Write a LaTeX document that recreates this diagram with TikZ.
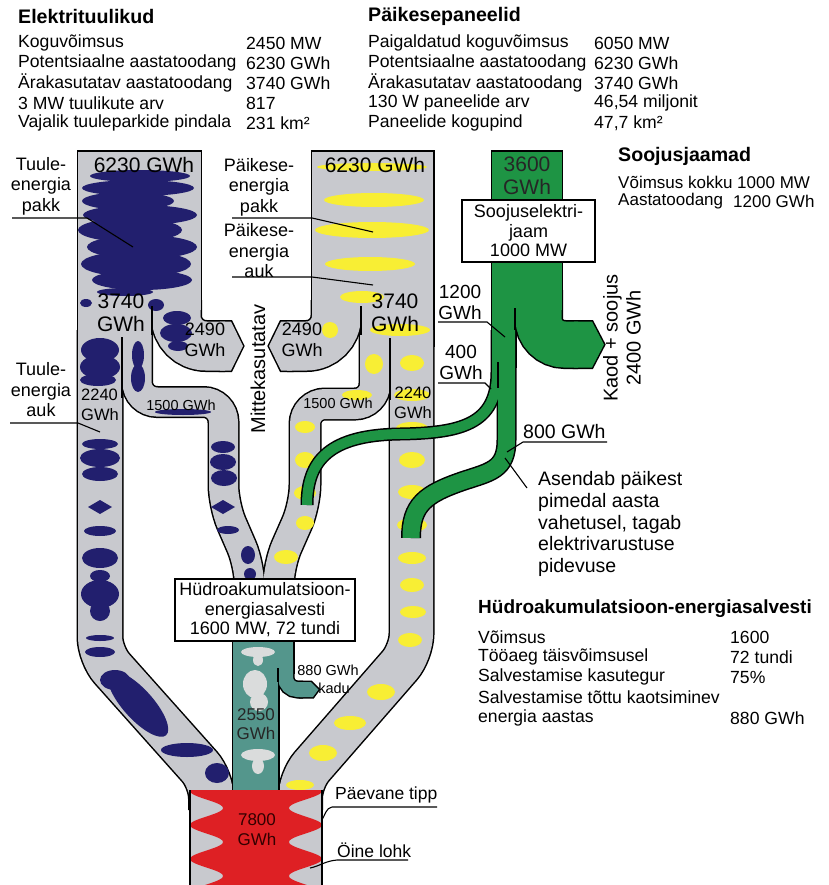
\documentclass[tikz,border=0pt]{standalone}
\usepackage{fontspec}
\setmainfont{Liberation Sans}
\usetikzlibrary{positioning}

\definecolor{bandgray}{RGB}{200,201,206}
\definecolor{windblue}{RGB}{34,31,110}
\definecolor{sunyellow}{RGB}{248,238,52}
\definecolor{heatgreen}{RGB}{30,148,68}
\definecolor{hydroteal}{RGB}{84,150,140}
\definecolor{peakred}{RGB}{222,32,36}
\definecolor{paleblob}{RGB}{218,220,220}

% #1 extra width, #2 band colour, #3 polygon style
\newcommand{\grayflow}[3]{%
  \path[#3] (78,152) rectangle (200.5,310);
  \path[#3] (78,300) rectangle (151,345);
  \draw[#2, line width=49pt+#1, rounded corners=30pt] (176,300) -- (176,346) -- (225,346);
  \path[#3] (220,321.5) -- (231,321.5) -- (243,346) -- (231,370.5) -- (220,370.5) -- cycle;
  \draw[#2, line width=44pt+#1, rounded corners=18pt] (100,330) -- (100,655) -- (211.5,780) -- (211.5,810);
  \draw[#2, line width=29pt+#1, rounded corners=20pt] (137,330) -- (137,402) -- (223.5,402) -- (223.5,505) -- (249.5,565) -- (249.5,590);
  \path[#3] (312,152) rectangle (433,310);
  \path[#3] (361,300) rectangle (433,345);
  \draw[#2, line width=49pt+#1, rounded corners=30pt] (336.5,300) -- (336.5,346) -- (287,346);
  \path[#3] (292,321.5) -- (281,321.5) -- (269,346) -- (281,370.5) -- (292,370.5) -- cycle;
  \draw[#2, line width=43pt+#1, rounded corners=18pt] (411.5,330) -- (411.5,652) -- (300,780) -- (300,810);
  \draw[#2, line width=30pt+#1, rounded corners=20pt] (375,330) -- (375,404) -- (305,404) -- (305,505) -- (278.5,565) -- (278.5,590);
}
\newcommand{\hydroflow}[3]{%
  \path[#3] (233,636) rectangle (293,672);
  \path[#3] (233,660) rectangle (278,810);
  \draw[#2, line width=15pt+#1, rounded corners=12pt] (285.5,660) -- (285.5,689.5) -- (303,689.5);
  \path[#3] (300,682) -- (311,682) -- (318.5,689.5) -- (313,697) -- (300,697) -- cycle;
}
\newcommand{\greenflow}[3]{%
  \path[#3] (492,152) rectangle (561.5,310);
  \path[#3] (492,300) rectangle (515,366);
  \draw[#2, line width=46pt+#1, rounded corners=26pt] (538.5,290) -- (538.5,344.5) -- (578,344.5);
  \path[#3] (574,321.5) -- (592,321.5) -- (604,344.5) -- (592,367.5) -- (574,367.5) -- cycle;
  \draw[#2, line width=17pt+#1] (506.5,330) -- (506.5,440) .. controls (506.5,470) and (490,472) .. (463,481) .. controls (425,494) and (411,505) .. (411,538);
  \draw[#2, line width=10pt+#1] (497,330) -- (497,372) .. controls (497,425) and (460,433) .. (400,434) .. controls (330,435) and (307,460) .. (307,505);
}

\begin{document}
\begin{tikzpicture}
  [x=1pt, y=-1pt,
   tbl/.style={anchor=west, inner sep=0pt, font=\fontsize{17.6}{20}\selectfont},
   ttl/.style={anchor=west, inner sep=0pt, font=\bfseries\fontsize{19.6}{22}\selectfont},
   lbl/.style={align=center, inner sep=0pt, font=\fontsize{18}{20.5}\selectfont},
   big/.style={align=center, inner sep=0pt, font=\fontsize{21}{23}\selectfont},
   mid/.style={align=center, inner sep=0pt, font=\fontsize{19}{21}\selectfont},
   small/.style={align=center, inner sep=0pt, font=\fontsize{14.5}{17}\selectfont},
   box/.style={draw, fill=white, line width=1.2pt, align=center, inner sep=2pt, font=\fontsize{18}{19.5}\selectfont},
   lead/.style={line width=1.1pt},
   outl/.style={draw=black, line width=3pt}]
  \useasboundingbox (0,0) rectangle (828,885);
  \clip (0,0) rectangle (828,885);

  % tuul ja paike
  \grayflow{3pt}{black}{outl}
  \grayflow{0pt}{bandgray}{fill=bandgray}

  \foreach \x/\y/\a/\b in {140/176/50/6, 138/188/56/8, 128/201/46/9, 140/215/57/10, 130/230/52/12, 142/247/55/12,
      136/264/55/13, 142/280/50/10, 125/292/28/4, 86/303/6/4, 156/305/8/6, 177/318/14/7, 176/333/16/9, 178/346/10/5,
      100/350/19/12, 100/367/20/12, 98/380/18/6, 138/355/6/14, 138/378/7/14, 183/412/28/3,
      100/444/18/5, 100/458/20/9, 100/474/18/7, 100/531/16/5, 100/558/18/10, 100/576/10/6, 100/594/19/14,
      100/611/10/10, 100/638/14/3, 100/652/15/5, 115/680/15/10, 187/750/26/7, 217/773/12/10,
      223/447/12/6, 223/462/13/8, 224/478/13/8, 228/530/11/4, 248/555/7/9, 250/574/6/6}
    \fill[windblue] (\x,\y) ellipse [x radius=\a pt, y radius=\b pt];
  \fill[windblue, rotate around={-48:(138,704)}] (138,704) ellipse [x radius=42pt, y radius=15pt];
  \foreach \x/\y in {100/507, 223/507}
    \fill[windblue] (\x-12,\y) -- (\x,\y-7) -- (\x+12,\y) -- (\x,\y+7) -- cycle;

  \foreach \x/\y/\a/\b in {372/167/55/4, 374/200/50/7, 372/230/57/8, 370/264/45/7, 362/297/22/6, 400/330/30/6,
      330/330/8/8, 374/364/9/10, 357/395/15/5,
      412/363/12/8, 412/395/18/6, 412/428/16/6, 412/460/13/8, 412/492/14/7, 412/525/15/7, 412/558/14/6,
      412/585/12/7, 413/612/13/6, 410/640/12/7, 381/692/14/8, 350/723/16/7, 323/753/14/8, 300/785/14/5,
      305/427/10/6, 305/460/10/8, 305/493/11/7, 305/523/9/7, 286/557/12/7}
    \fill[sunyellow] (\x,\y) ellipse [x radius=\a pt, y radius=\b pt];

  \foreach \x/\a/\b in {152/306/335, 122/337/398, 361/306/335, 390/338/400}
    \draw[line width=1.5pt] (\x,\a) -- (\x,\b);

  % hudroakumulatsioon
  \hydroflow{3pt}{black}{outl}
  \hydroflow{0pt}{hydroteal}{fill=hydroteal}
  \foreach \x/\y/\a/\b in {258/652/17/5, 258/660/5/6, 255/684/12/14, 259/702/9/9, 258/755/17/6, 258/766/6/8}
    \fill[paleblob] (\x,\y) ellipse [x radius=\a pt, y radius=\b pt];
  \draw[line width=1.5pt] (278,668) -- (278,682);

  % soojusjaamad
  \greenflow{3pt}{black}{outl}
  \greenflow{0pt}{heatgreen}{fill=heatgreen}
  \foreach \x/\a/\b in {515/308/330, 498/362/388}
    \draw[line width=1.5pt] (\x,\a) -- (\x,\b);

  % tarbimine
  \fill[bandgray] (190,790) rectangle (322,890);
  \fill[peakred] (190,790) -- (322,790)
    -- plot[domain=790:890, samples=80] ({322-16.5*(1-cos((\x-791)*10.588))},\x)
    -- plot[domain=890:790, samples=80] ({190+16.5*(1-cos((\x-791)*10.588))},\x) -- cycle;
  \draw[line width=1.5pt] (190,790) -- (190,890) (322,790) -- (322,890);

  % kastid
  \node[box, minimum width=133pt, minimum height=62pt] (heatbox) at (528.5,231) {Soojuselektri-\\jaam\\1000 MW};
  \node[box, minimum width=180pt, minimum height=62pt] (hydrobox) at (265,610) {Hüdroakumulatsioon-\\energiasalvesti\\1600 MW, 72 tundi};

  % vood
  \node[big] (wtop) at (144,165) {6230 GWh};
  \node[big] (stop) at (375,165) {6230 GWh};
  \node[big] (wuse) at (121,313) {3740\\GWh};
  \node[big] (suse) at (395,313) {3740\\GWh};
  \node[lbl] (wlost) at (205,340) {2490\\GWh};
  \node[lbl] (slost) at (302,340) {2490\\GWh};
  \node[align=left, inner sep=0pt, font=\fontsize{16.5}{20}\selectfont] (wdir) at (100,405) {2240\\GWh};
  \node[align=center, inner sep=0pt, font=\fontsize{16.5}{20}\selectfont] (sdir) at (413,403) {2240\\GWh};
  \node[small] (wstore) at (181,405) {1500 GWh};
  \node[small] (sstore) at (338,403) {1500 GWh};
  \node[big, text=black!85] (heatval) at (527,176) {3600\\GWh};
  \node[align=center, inner sep=0pt, font=\fontsize{17}{19}\selectfont, text=black!85] (hydval) at (256,724) {2550\\GWh};
  \node[small] (loss1) at (328,670) {880 GWh};
  \node[small] (loss2) at (334,688) {kadu};
  \node[align=center, inner sep=0pt, font=\fontsize{17}{20}\selectfont, text=black!80!red] (useval) at (257,830) {7800\\GWh};
  \node[mid, rotate=90, font=\fontsize{20}{22}\selectfont] (unused) at (258,369) {Mittekasutatav};
  \node[mid, rotate=90, font=\fontsize{20}{23}\selectfont] (heatloss) at (622,338) {Kaod + soojus\\2400 GWh};
  \node[mid] (h1200) at (460,302) {1200\\GWh};
  \node[mid] (h400) at (461,362) {400\\GWh};
  \node[anchor=west, inner sep=0pt, font=\fontsize{19.5}{22}\selectfont] (h800) at (523,432) {800 GWh};
  \node[anchor=west, align=left, inner sep=0pt, font=\fontsize{19.5}{21.7}\selectfont] (h800txt) at (538,524)
    {Asendab päikest\\pimedal aasta\\vahetusel, tagab\\elektrivarustuse\\pidevuse};
  \node[lbl] (wpakk) at (41,186) {Tuule-\\energia\\pakk};
  \node[lbl] (wauk) at (41,390) {Tuule-\\energia\\auk};
  \node[lbl] (spakk) at (259,187) {Päikese-\\energia\\pakk};
  \node[lbl] (sauk) at (259,251) {Päikese-\\energia\\auk};
  \node[anchor=west, inner sep=0pt, font=\fontsize{17.5}{20}\selectfont] (tipp) at (335,795) {Päevane tipp};
  \node[anchor=west, inner sep=0pt, font=\fontsize{17.5}{20}\selectfont] (lohk) at (337,850) {Öine lohk};

  % viited
  \foreach \n/\x/\y in {wpA/12/218, wpB/87/218, wpC/133/247, waA/10/423, waB/78/423, waC/100/432,
      spA/232/218, spB/312/218, spC/373/232, saA/232/277, saB/312/277, saC/373/285,
      hA/438/322, hB/487/322, hC/505/337, fA/438/383, fB/485/383, fC/491/389,
      eA/523/442, eB/607/442, eC/507/452, aA/505/458, aB/527/488,
      tA/332/807, tB/437/807, tC/322/820, lA/337/860, lB/408/860, lC/310/868}
    \coordinate (\n) at (\x,\y);
  \foreach \a/\b/\c in {wpA/wpB/wpC, waA/waB/waC, spA/spB/spC, saA/saB/saC, hA/hB/hC, fA/fB/fC}
    \draw[lead] (\a) -- (\b) -- (\c);
  \draw[lead] (eB) -- (eA) -- (eC);
  \draw[lead] (aA) -- (aB);
  \draw[lead] (tB) -- (tA) .. controls (326,808) and (325,815) .. (tC);
  \draw[lead] (lB) -- (lA) .. controls (325,861) and (320,866) .. (lC);

  % tabelid
  \node[ttl] (windttl) at (18,16) {Elektrituulikud};
  \foreach \y/\a/\b [count=\i] in {43/Koguvõimsus/2450 MW, 63/Potentsiaalne aastatoodang/6230 GWh,
      83/Ärakasutatav aastatoodang/3740 GWh, 103/3 MW tuulikute arv/817, 123/Vajalik tuuleparkide pindala/231 km²}
    {\node[tbl] (wl\i) at (18,\y) {\a}; \node[tbl] (wv\i) at (246,\y) {\b};}

  \node[ttl] (sunttl) at (368,16) {Päikesepaneelid};
  \foreach \y/\a/\b [count=\i] in {43/Paigaldatud koguvõimsus/6050 MW, 63/Potentsiaalne aastatoodang/6230 GWh,
      83/Ärakasutatav aastatoodang/3740 GWh, 103/130 W paneelide arv/{46,54 miljonit}, 123/Paneelide kogupind/{47,7 km²}}
    {\node[tbl] (sl\i) at (368,\y) {\a}; \node[tbl] (sv\i) at (594,\y) {\b};}

  \node[ttl] (heatttl) at (618,156) {Soojusjaamad};
  \node[tbl, font=\fontsize{17}{20}\selectfont] (hl1) at (618,182) {Võimsus kokku 1000 MW};
  \node[tbl, font=\fontsize{17}{20}\selectfont] (hl2) at (618,201) {Aastatoodang};
  \node[tbl, font=\fontsize{17}{20}\selectfont] (hv2) at (733,201) {1200 GWh};

  \node[ttl, font=\bfseries\fontsize{19}{22}\selectfont] (hydttl) at (478,609) {Hüdroakumulatsioon-energiasalvesti};
  \foreach \y/\a/\b [count=\i] in {637/Võimsus/1600, 657/Tööaeg täisvõimsusel/72 tundi,
      677/Salvestamise kasutegur/75\%, 718/energia aastas/880 GWh}
    {\node[tbl] (yl\i) at (478,\y) {\a}; \node[tbl] (yv\i) at (730,\y) {\b};}
  \node[tbl] (yl5) at (478,697) {Salvestamise tõttu kaotsiminev};
\end{tikzpicture}
\end{document}
